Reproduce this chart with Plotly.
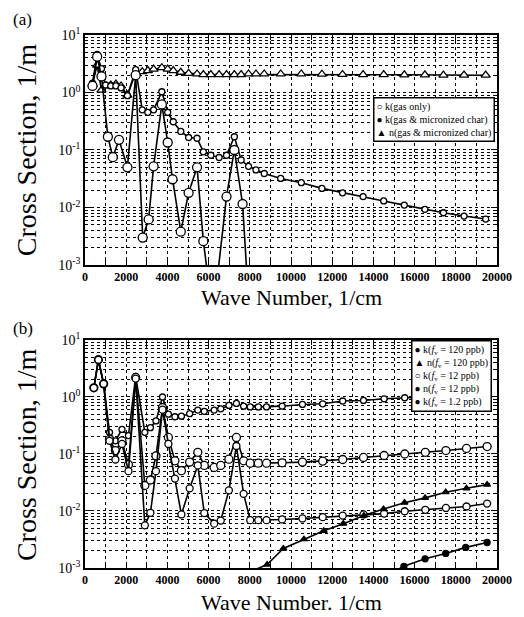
import plotly.graph_objects as go

# ---------------- Panel (a) data ----------------
a_gas_x = [365, 590, 800, 1110, 1350, 1650, 2060, 2460, 2800, 3090, 3330, 3730, 4015,
           4250, 4650, 5030, 5440, 5745, 6000, 6200, 6400, 6870, 7250, 7650, 7900]
a_gas_k = [1.3, 4.2, 1.9, 0.17, 0.075, 0.15, 0.05, 2.0, 0.003, 0.0062, 0.052, 0.62, 0.135,
           0.031, 0.0038, 0.018, 0.05, 0.0026, 0.0005, 0.0002, 0.0005, 0.0155, 0.1, 0.0115, 0.0004]

a_char_x = [365, 590, 800, 1000, 1250, 1500, 1750, 2060, 2460, 2780, 3050, 3330, 3730, 4015,
            4285, 4650, 5030, 5440, 5745, 6110, 6510, 6870, 7250, 7580, 7940, 8300, 8700,
            9500, 10500, 11500, 12500, 13500, 14500, 15500, 16500, 17400, 18400, 19450]
a_char_k = [1.45, 4.6, 2.6, 1.35, 1.3, 1.3, 1.2, 0.88, 2.5, 0.5, 0.45, 0.5, 1.03, 0.45,
            0.31, 0.21, 0.165, 0.16, 0.093, 0.081, 0.074, 0.081, 0.17, 0.067, 0.052, 0.045, 0.039,
            0.032, 0.027, 0.0215, 0.018, 0.0155, 0.013, 0.011, 0.0093, 0.0081, 0.0071, 0.0063]
a_char_n = [1.4, 3.0, 1.1, 1.3, 1.35, 1.4, 1.3, 0.9, 2.2, 2.3, 2.4, 2.55, 2.7, 2.55,
            2.4, 2.25, 2.15, 2.1, 2.05, 2.05, 2.05, 2.05, 2.05, 2.05, 2.1, 2.1, 2.1,
            2.1, 2.1, 2.08, 2.06, 2.05, 2.04, 2.03, 2.02, 2.01, 2.0, 2.0]

# ---------------- Panel (b) data ----------------
b_x = [430, 650, 905, 1190, 1476, 1795, 2110, 2460, 2905, 3175, 3445, 3762, 4048, 4365,
       4680, 5080, 5476, 5790, 6270, 6590, 6985, 7350, 7700, 8020, 8413, 8810, 9570,
       10556, 11540, 12510, 13520, 14520, 15520, 16520, 17520, 18520, 19520]
b_k120 = [1.45, 4.5, 1.7, 0.24, 0.17, 0.27, 0.21, 2.3, 0.24, 0.29, 0.38, 1.0, 0.5, 0.45,
          0.46, 0.51, 0.59, 0.56, 0.59, 0.62, 0.71, 0.77, 0.69, 0.67, 0.67, 0.67, 0.69,
          0.74, 0.76, 0.85, 0.87, 0.93, 0.97, 1.0, 1.03, 1.06, 1.1]
b_k12 = [1.45, 4.5, 1.7, 0.18, 0.115, 0.17, 0.065, 2.2, 0.028, 0.035, 0.093, 0.65, 0.195, 0.076,
         0.051, 0.072, 0.107, 0.063, 0.058, 0.063, 0.081, 0.195, 0.076, 0.069, 0.069, 0.069, 0.07,
         0.072, 0.075, 0.08, 0.087, 0.094, 0.1, 0.107, 0.115, 0.125, 0.135]
b_k1_2 = [1.45, 4.5, 1.7, 0.17, 0.08, 0.15, 0.05, 2.1, 0.0056, 0.0093, 0.05, 0.6, 0.15, 0.037,
          0.0087, 0.025, 0.063, 0.0092, 0.006, 0.0068, 0.023, 0.138, 0.02, 0.0069, 0.0069, 0.0069, 0.0071,
          0.0074, 0.0078, 0.0083, 0.0087, 0.009, 0.0099, 0.0105, 0.0113, 0.012, 0.0135]
b_n120_x = [8000, 8840, 9630, 10630, 11590, 12540, 13540, 14490, 15510, 16510, 17510, 18520, 19520]
b_n120 = [0.00085, 0.00115, 0.0022, 0.0032, 0.0045, 0.006, 0.0083, 0.0108, 0.014, 0.017, 0.0214, 0.025, 0.029]
b_n12_x = [14500, 15480, 16510, 17510, 18480, 19520]
b_n12 = [0.0007, 0.00107, 0.00145, 0.0018, 0.0023, 0.0028]

x_ticks = list(range(0, 20001, 2000))
y_ticks = [1e-3, 1e-2, 1e-1, 1, 10]
y_ticktext = ['10<sup>-3</sup>', '10<sup>-2</sup>', '10<sup>-1</sup>', '10<sup>0</sup>', '10<sup>1</sup>']

x_title_a = 'Wave Number, 1/cm'
x_title_b = 'Wave Number. 1/cm'
y_title = 'Cross Section, 1/m'

legend_a = ['○ k(gas only)', '● k(gas &amp; micronized char)', '▲ n(gas &amp; micronized char)']
legend_b = ['● k(<i>f</i><sub>v</sub> = 120 ppb)', '▲ n(<i>f</i><sub>v</sub> = 120 ppb)',
            '○ k(<i>f</i><sub>v</sub> = 12 ppb)', '● n(<i>f</i><sub>v</sub> = 12 ppb)',
            '● k(<i>f</i><sub>v</sub> = 1.2 ppb)']

SERIF = 'Liberation Serif, Times New Roman, DejaVu Serif, serif'
fig = go.Figure()


def series(x, y, symbol, size, fill, xa, ya, name):
    fig.add_trace(go.Scatter(
        x=x, y=y, mode='lines+markers', xaxis=xa, yaxis=ya, showlegend=False, name=name,
        line=dict(color='black', width=1.6),
        marker=dict(symbol=symbol, size=size, color=fill, line=dict(color='black', width=1.3))))


# panel (a)
series(a_char_x, a_char_n, 'triangle-up', 8, 'white', 'x', 'y', 'n(gas & micronized char)')
series(a_char_x, a_char_k, 'circle', 6, 'white', 'x', 'y', 'k(gas & micronized char)')
series(a_gas_x, a_gas_k, 'circle', 9, 'white', 'x', 'y', 'k(gas only)')

# panel (b)
series(b_x, b_k120, 'circle', 6, 'white', 'x2', 'y2', 'k(fv = 120 ppb)')
series(b_x, b_k12, 'circle', 8, 'white', 'x2', 'y2', 'k(fv = 12 ppb)')
series(b_x, b_k1_2, 'circle', 7, 'white', 'x2', 'y2', 'k(fv = 1.2 ppb)')
series(b_n120_x, b_n120, 'triangle-up', 6, 'black', 'x2', 'y2', 'n(fv = 120 ppb)')
series(b_n12_x, b_n12, 'circle', 6, 'black', 'x2', 'y2', 'n(fv = 12 ppb)')

grid = dict(showgrid=True, gridcolor='black', griddash='dot', gridwidth=1)
xcommon = dict(range=[0, 20000], tickmode='array', tickvals=x_ticks,
               ticktext=[str(v) for v in x_ticks], ticks='inside', ticklen=6,
               tickcolor='black', showline=True, linecolor='black', linewidth=1.5,
               mirror='ticks', zeroline=False,
               minor=dict(tickmode='linear', tick0=0, dtick=1000, ticks='inside', ticklen=5,
                          tickcolor='black', **grid),
               tickfont=dict(family=SERIF, size=12, color='black', weight='bold'),
               **grid)
minor_y = [m * 10 ** e for e in range(-3, 1) for m in range(2, 10)]
ycommon = dict(type='log', range=[-3, 1], tickmode='array', tickvals=y_ticks,
               ticktext=y_ticktext, ticks='inside', ticklen=6, tickcolor='black',
               showline=True, linecolor='black', linewidth=1.5, mirror='ticks',
               minor=dict(tickmode='array', tickvals=minor_y, ticks='inside', ticklen=3,
                          tickcolor='black', showgrid=True, gridcolor='black',
                          griddash='dot', gridwidth=0.8),
               tickfont=dict(family=SERIF, size=14, color='black'),
               **grid)


def box(text, x, y):
    return dict(text='<br>'.join(text), x=x, y=y, xref='paper', yref='paper',
                xanchor='right', yanchor='top', align='left', showarrow=False,
                bgcolor='white', bordercolor='black', borderwidth=1.5, borderpad=2,
                font=dict(family=SERIF, size=10, color='black'))


def label(text, x, y, size, angle=0, xanchor='center'):
    return dict(text=text, x=x, y=y, xref='paper', yref='paper', textangle=angle,
                xanchor=xanchor, yanchor='middle', showarrow=False,
                font=dict(family=SERIF, size=size, color='black'))


# the page body offsets the figure by 8px, so the figure is 8px smaller than the window
fig.update_layout(
    width=516, height=609, margin=dict(l=77, r=19, t=27, b=49),
    paper_bgcolor='white', plot_bgcolor='white',
    font=dict(family=SERIF, color='black'),
    showlegend=False,
    xaxis=dict(anchor='y', domain=[0, 1], **xcommon),
    yaxis=dict(anchor='x', domain=[0.5685, 1.0], **ycommon),
    xaxis2=dict(anchor='y2', domain=[0, 1], **xcommon),
    yaxis2=dict(anchor='x2', domain=[0.0, 0.4278], **ycommon),
    annotations=[
        box(legend_a, 0.995, 0.884),
        box(legend_b, 0.988, 0.427),
        label(y_title, -0.143, 0.784, 28, angle=-90),
        label(y_title, -0.143, 0.212, 28, angle=-90),
        label(x_title_a, 0.5, 0.5066, 22),
        label(x_title_b, 0.5, -0.0638, 22),
        label('(a)', -0.179, 1.030, 17, xanchor='left'),
        label('(b)', -0.179, 0.450, 17, xanchor='left'),
    ],
)

fig.write_html('out.html')
